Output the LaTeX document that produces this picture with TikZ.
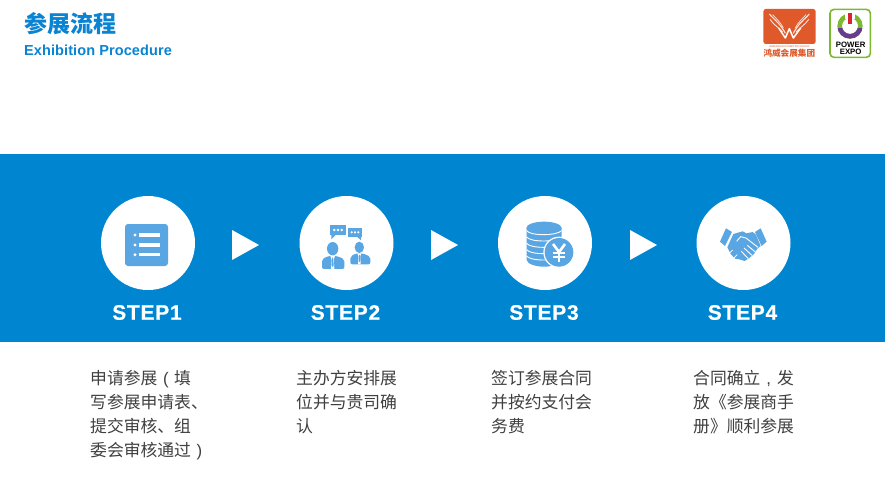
\documentclass[tikz,border=0pt]{standalone}
\usepackage{fontspec}
\setmainfont{Liberation Sans}
\newfontfamily\cjk{Noto Sans CJK SC}
\usetikzlibrary{calc}
\definecolor{band}{HTML}{0085D0}
\definecolor{titleblue}{HTML}{0A84D2}
\definecolor{iconblue}{HTML}{5AA6E3}
\definecolor{bodytext}{HTML}{404040}
\definecolor{logoorange}{HTML}{E0592A}
\definecolor{logogreen}{HTML}{7DB92E}
\definecolor{logopurple}{HTML}{6A3A8E}
\definecolor{logored}{HTML}{D9232E}
\newcommand{\pb}[1]{\makebox[1em]{\fontspec{Liberation Sans}#1}}
\tikzset{
  x=1pt,y=-1pt,
  stepcircle/.style={circle,fill=white,draw=none,minimum size=94pt,inner sep=0pt},
  steplabel/.style={text=white,inner sep=0pt,font=\fontsize{21}{24}\selectfont\bfseries\addfontfeature{LetterSpace=3.5,FakeBold=0.5}},
  arrowtri/.style={fill=white,draw=none},
  bodyblock/.style={anchor=north west,align=left,inner sep=0pt,text=bodytext,font=\cjk\fontsize{16.8}{24}\selectfont},
  icon/.style={fill=iconblue,draw=none},
  zoomed/.style={shift={(#1)},x=0.3333pt,y=-0.3333pt},
}
\begin{document}
\begin{tikzpicture}
\useasboundingbox (0,0) rectangle (885,492);
\fill[white] (0,0) rectangle (885,492);
\fill[band] (0,154) rectangle (885,342);

% heading
\node[anchor=west,inner sep=0pt,text=titleblue,font=\cjk\bfseries\fontsize{23}{26}\selectfont] (title) at (24,24) {参展流程};
\node[anchor=west,inner sep=0pt,text=titleblue,font=\bfseries\fontsize{14.5}{16}\selectfont\addfontfeature{LetterSpace=0.7}] (subtitle) at (24,50) {Exhibition Procedure};

% step circles and labels
\node[stepcircle] (c1) at (148,243) {};
\node[stepcircle] (c2) at (346.5,243) {};
\node[stepcircle] (c3) at (545,243) {};
\node[stepcircle] (c4) at (743.5,243) {};
\node[steplabel] (s1) at (147,312.5) {STEP1};
\node[steplabel] (s2) at (345.5,312.5) {STEP2};
\node[steplabel] (s3) at (544,312.5) {STEP3};
\node[steplabel] (s4) at (742.5,312.5) {STEP4};

% triangles between steps
\fill[arrowtri] (232,230) -- (259,245) -- (232,260) -- cycle;
\fill[arrowtri] (431,230) -- (458,245) -- (431,260) -- cycle;
\fill[arrowtri] (630,230) -- (657,245) -- (630,260) -- cycle;

% body text
\node[bodyblock] (t1) at (90,370.5) {申请参展\pb{(}填\\写参展申请表、\\提交审核、组\\委会审核通过\pb{)}};
\node[bodyblock] (t2) at (296,370.5) {主办方安排展\\位并与贵司确\\认};
\node[bodyblock] (t3) at (491,370.5) {签订参展合同\\并按约支付会\\务费};
\node[bodyblock] (t4) at (693,370.5) {合同确立\pb{,}发\\放《参展商手\\册》顺利参展};

% icon 1: list
\fill[icon,rounded corners=3pt] (125,224) rectangle (168,266);
\foreach \yy in {235,245,254.7}{
  \fill[white] (135,\yy) circle (1.6pt);
  \draw[white,line width=3.2pt] (139,\yy) -- (160,\yy);
}

% icon 2: two people talking (zoom coordinates)
\begin{scope}[zoomed={316,220}]
  \fill[icon] (42,14) rectangle (90,45);
  \fill[icon] (46,44) -- (46,58) -- (60,44) -- cycle;
  \foreach \xx in {55,66,77}{\fill[white] (\xx,30) circle (1.4pt);}
  \fill[icon] (97,24) rectangle (137,50);
  \fill[icon] (122,49) -- (135,61) -- (135,49) -- cycle;
  \foreach \xx in {107,117,127}{\fill[white] (\xx,37) circle (1.2pt);}
  \fill[icon] (50,86) ellipse (17 and 20);
  \fill[icon,rounded corners=2pt] (18,147) -- (18,118) -- (36,108) -- (64,108) -- (85,118) -- (85,147) -- cycle;
  \fill[white] (43,108) -- (57,108) -- (50,128) -- cycle;
  \fill[white] (47,118) -- (53,118) -- (55,147) -- (45,147) -- cycle;
  \fill[icon] (48.5,113) -- (51.5,113) -- (53,136) -- (50,141) -- (47,136) -- cycle;
  \fill[icon] (130,82) ellipse (14 and 17);
  \fill[icon,rounded corners=2pt] (103,133) -- (103,110) -- (120,100) -- (140,100) -- (163,110) -- (163,133) -- cycle;
  \fill[white] (124,100) -- (136,100) -- (130,116) -- cycle;
  \fill[white] (127,110) -- (133,110) -- (134,133) -- (126,133) -- cycle;
  \fill[icon] (128.8,105) -- (131.2,105) -- (132.5,123) -- (130,127) -- (127.5,123) -- cycle;
\end{scope}

% icon 3: coins with yen (zoom coordinates)
\begin{scope}[zoomed={520,218}]
  \fill[icon] (20,30) -- (20,125) .. controls (20,137) and (45,146) .. (72,146) .. controls (100,146) and (125,137) .. (125,125) -- (125,30) -- cycle;
  \fill[icon] (72,30) ellipse (53 and 19);
  \foreach \dy in {0,19,38,57,76}{
    \draw[white,line width=0.9pt] (20,38+\dy) .. controls (30,54+\dy) and (110,54+\dy) .. (125,38+\dy);
  }
  \fill[white] (117,103) circle (47);
  \fill[icon] (117,103) circle (43);
  \draw[white,line width=2.6pt] (99,78) -- (117,102) -- (135,78);
  \draw[white,line width=2.6pt] (117,102) -- (117,131);
  \draw[white,line width=2pt] (98,104) -- (136,104);
  \draw[white,line width=2pt] (98,116) -- (136,116);
\end{scope}

% icon 4: handshake (zoom coordinates)
\begin{scope}[zoomed={490,190}]
  \fill[icon] (708,115) -- (726,126) -- (705,168) -- (690,155) -- cycle;
  \fill[icon] (812,115) -- (795,126) -- (815,168) -- (830,155) -- cycle;
  \fill[icon] (730,132) -- (758,124) -- (770,130) -- (788,126) -- (798,134) -- (812,168) -- (802,176) -- (792,192) -- (778,204) -- (764,213) -- (748,208) -- (735,206) -- (722,192) -- (712,172) -- cycle;
  \draw[white,line width=0.9pt,line join=round] (740,154) -- (752,140) -- (768,144) -- (804,172);
  \draw[white,line width=0.9pt] (772,166) -- (796,186);
  \draw[white,line width=0.9pt] (762,174) -- (786,196);
  \draw[white,line width=0.9pt] (754,184) -- (775,206);
  \draw[white,line width=0.7pt] (718,190) -- (728,180);
  \draw[white,line width=0.7pt] (732,204) -- (742,194);
\end{scope}

% logo 1 (zoom coordinates)
\begin{scope}[zoomed={750,0}]
  \fill[logoorange,rounded corners=2.5pt] (40,27) rectangle (197,132);
  \draw[white,line width=1.5pt,line join=round] (86,84) -- (106,114) -- (118,86) -- (130,114) -- (152,84);
  \foreach \fl in {1,-1}{
    \begin{scope}[shift={(118,0)},x={(\fl*0.3333pt,0)}]
      \draw[white!85!logoorange,line width=1.1pt] (-60,42) .. controls (-44,60) and (-26,72) .. (-12,100);
      \draw[white!85!logoorange,line width=0.9pt] (-58,58) .. controls (-48,74) and (-32,82) .. (-20,96);
      \draw[white!85!logoorange,line width=0.7pt] (-50,44) .. controls (-40,56) and (-28,64) .. (-18,84);
    \end{scope}
  }
  \node[text=logoorange,inner sep=0pt,font=\fontsize{2.6}{3}\selectfont] (logotiny) at (118,139) {GRANDEUR EXHIBITION GROUP};
  \node[text=logoorange,inner sep=0pt,font=\cjk\bfseries\fontsize{8.6}{10}\selectfont] (logocn) at (118,160) {鸿威会展集团};
\end{scope}

% logo 2 (zoom coordinates)
\begin{scope}[zoomed={750,0}]
  \draw[logogreen,fill=white,line width=1.6pt,rounded corners=4pt] (240,28) rectangle (361,172);
  \fill[logogreen,even odd rule] (300,78) circle (38) (300,78) circle (24);
  \begin{scope}
    \clip (240,86) rectangle (361,125);
    \fill[logopurple,even odd rule] (300,78) circle (38) (300,78) circle (24);
  \end{scope}
  \fill[white] (286,36) rectangle (314,58);
  \fill[logored] (295,38) rectangle (306,72);
  \node[text=black,inner sep=0pt,font=\bfseries\fontsize{7.8}{9}\selectfont] (logop) at (302,133) {POWER};
  \node[text=black,inner sep=0pt,font=\bfseries\fontsize{7.8}{9}\selectfont] (logoe) at (302,155) {EXPO};
\end{scope}
\end{tikzpicture}
\end{document}
